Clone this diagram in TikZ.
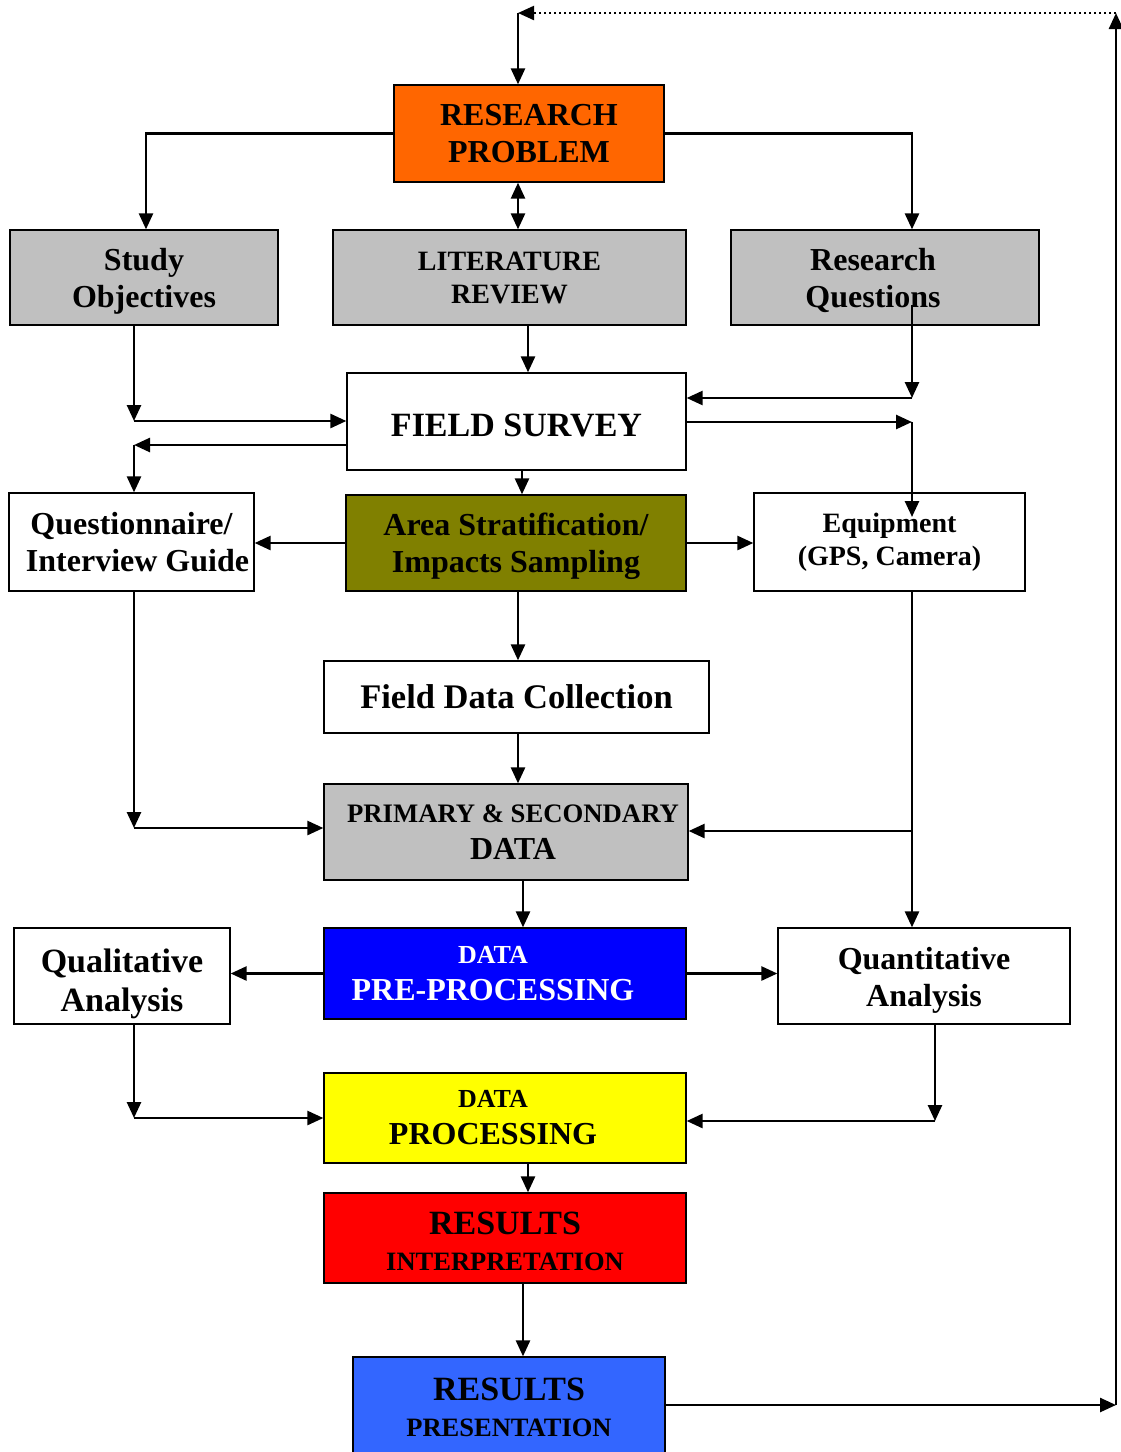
\documentclass[tikz,border=0pt]{standalone}
\usepackage{fontspec}
\setmainfont{Liberation Serif}
\usetikzlibrary{arrows.meta,calc}
\definecolor{probcol}{HTML}{FF6600}
\definecolor{greycol}{HTML}{C0C0C0}
\definecolor{olivecol}{HTML}{808000}
\definecolor{precol}{HTML}{0000FF}
\definecolor{proccol}{HTML}{FFFF00}
\definecolor{intcol}{HTML}{FF0000}
\definecolor{prescol}{HTML}{3366FF}
% move the ink of a line down without changing its box
\newcommand{\dropby}[2]{\raisebox{-#1}[\height][\depth]{#2}}
\begin{document}
\begin{tikzpicture}[x=1pt,y=-1pt,
  box/.style={draw,line width=1.3pt,inner sep=0pt,align=center},
  big/.style={font=\bfseries\fontsize{32}{37}\selectfont},
  small/.style={font=\bfseries\fontsize{28}{33}\selectfont},
  arr/.style={line width=2.6pt,-{Triangle[length=16pt,width=14pt]}},
  dbl/.style={line width=2.6pt,{Triangle[length=16pt,width=14pt]}-{Triangle[length=16pt,width=14pt]}}]
\useasboundingbox (0,0) rectangle (1120,1452);
% boxes
\node[box,big,fill=probcol,minimum width=270pt,minimum height=97pt] (rp) at (529,133.5) {RESEARCH\\PROBLEM};
\node[box,big,fill=greycol,minimum width=268pt,minimum height=95pt] (so) at (144,277.5) {\dropby{4pt}{Study}\\\dropby{4pt}{Objectives}};
\node[box,small,fill=greycol,minimum width=353pt,minimum height=95pt] (lit) at (509.5,277.5) {LITERATURE\\REVIEW};
\node[box,big,fill=greycol,minimum width=308pt,minimum height=95pt] (rq) at (885,277.5) {\dropby{3pt}{Research}\hspace*{24pt}\\\dropby{3pt}{Questions}\hspace*{24pt}};
\node[box,font=\bfseries\fontsize{34}{38}\selectfont,minimum width=339pt,minimum height=97pt] (fs) at (516.5,421.5) {\dropby{4pt}{FIELD SURVEY}};
\node[box,big,minimum width=245pt,minimum height=98pt] (qi) at (131.5,542) {Questionnaire/\\\hspace*{12pt}Interview Guide};
\node[box,big,fill=olivecol,minimum width=340pt,minimum height=96pt] (as) at (516,543) {\dropby{3pt}{Area Stratification/}\\\dropby{3pt}{Impacts Sampling}};
\node[box,small,minimum width=271pt,minimum height=98pt] (eq) at (889.5,542) {Equipment\\(GPS, Camera)};
\node[box,font=\bfseries\fontsize{34.5}{38}\selectfont,minimum width=385pt,minimum height=72pt] (fdc) at (516.5,697) {Field Data Collection};
\node[box,big,fill=greycol,minimum width=364pt,minimum height=96pt] (pd) at (506,832) {\hspace*{14pt}{\fontsize{26.7}{30}\selectfont PRIMARY \& SECONDARY}\\\hspace*{14pt}DATA};
\node[box,big,fill=precol,text=white,minimum width=362pt,minimum height=91pt] (pre) at (505,973.5) {{\fontsize{26}{30}\selectfont DATA}\hspace*{24pt}\\PRE-PROCESSING\hspace*{24pt}};
\node[box,font=\bfseries\fontsize{34}{39}\selectfont,minimum width=216pt,minimum height=96pt] (ql) at (122,976) {\dropby{8pt}{Qualitative}\\\dropby{8pt}{Analysis}};
\node[box,big,minimum width=292pt,minimum height=96pt] (qn) at (924,976) {\dropby{4pt}{Quantitative}\\\dropby{4pt}{Analysis}};
\node[box,big,fill=proccol,minimum width=362pt,minimum height=90pt] (dp) at (505,1118) {{\fontsize{26}{30}\selectfont DATA}\hspace*{24pt}\\PROCESSING\hspace*{24pt}};
\node[box,font=\bfseries\fontsize{34}{36}\selectfont,fill=intcol,minimum width=362pt,minimum height=90pt] (ri) at (505,1238) {\dropby{3pt}{RESULTS}\\\dropby{3pt}{\fontsize{26.5}{30}\selectfont INTERPRETATION}};
\node[box,font=\bfseries\fontsize{34}{36}\selectfont,fill=prescol,minimum width=312pt,minimum height=100pt] (rpr) at (509,1407) {RESULTS\\{\fontsize{26.5}{30}\selectfont PRESENTATION}};
% corner points
\coordinate (tl) at (518,13);
\coordinate (tr) at (1116,13);
\coordinate (br) at (1116,1405);
\coordinate (c1) at (134,421);
\coordinate (c2) at (134,445);
\coordinate (c3) at (912,398);
\coordinate (c4) at (912,422);
\coordinate (c5) at (134,828);
\coordinate (c6) at (912,831);
\coordinate (c7) at (134,1118);
\coordinate (c8) at (935,1121);
\coordinate (rqs) at (912,305);
\coordinate (eqt) at (912,517);
\coordinate (xa) at (528,0);
\coordinate (xb) at (522,0);
\coordinate (xc) at (523,0);
% loop back
\draw[line width=2.2pt,dash pattern=on 2pt off 3pt,-{Triangle[length=16pt,width=14pt]}] (tr) -- (tl);
\draw[arr] (tl) -- (tl |- rp.north);
\draw[arr] (rpr.east |- br) -- (br);
\draw[arr] (br) -- (tr);
% top part
\draw[arr] (rp.west) -| (so.north -| 146,0);
\draw[arr] (rp.east) -| (rq.north -| rqs);
\draw[dbl] (tl |- rp.south) -- (tl |- lit.north);
\draw[arr] (lit.south -| xa) -- (xa |- fs.north);
\draw[arr] (so.south -| c1) -- (c1);
\draw[arr] (c1) -- (c1 -| fs.west);
\draw[arr] (c2 -| fs.west) -- (c2);
\draw[arr] (c2) -- (c2 |- qi.north);
\draw[arr] (rqs) -- (c3);
\draw[arr] (c3) -- (c3 -| fs.east);
\draw[arr] (c4 -| fs.east) -- (c4);
\draw[arr] (c4) -- (eqt);
\draw[arr] (fs.south -| xb) -- (xb |- as.north);
\draw[arr] (as.west) -- (as.west -| qi.east);
\draw[arr] (as.east) -- (as.east -| eq.west);
\draw[arr] (as.south -| tl) -- (tl |- fdc.north);
\draw[arr] (fdc.south -| tl) -- (tl |- pd.north);
% data part
\draw[arr] (qi.south -| c5) -- (c5);
\draw[arr] (c5) -- (c5 -| pd.west);
\draw[arr] (eq.south -| c6) -- (c6 |- qn.north);
\draw[arr] (c6) -- (c6 -| pd.east);
\draw[arr] (pd.south -| xc) -- (xc |- pre.north);
\draw[arr] (pre.west) -- (pre.west -| ql.east);
\draw[arr] (pre.east) -- (pre.east -| qn.west);
\draw[arr] (ql.south -| c7) -- (c7);
\draw[arr] (c7) -- (c7 -| dp.west);
\draw[arr] (qn.south -| c8) -- (c8);
\draw[arr] (c8) -- (c8 -| dp.east);
\draw[arr] (dp.south -| xa) -- (xa |- ri.north);
\draw[arr] (ri.south -| xc) -- (xc |- rpr.north);
\end{tikzpicture}
\end{document}
